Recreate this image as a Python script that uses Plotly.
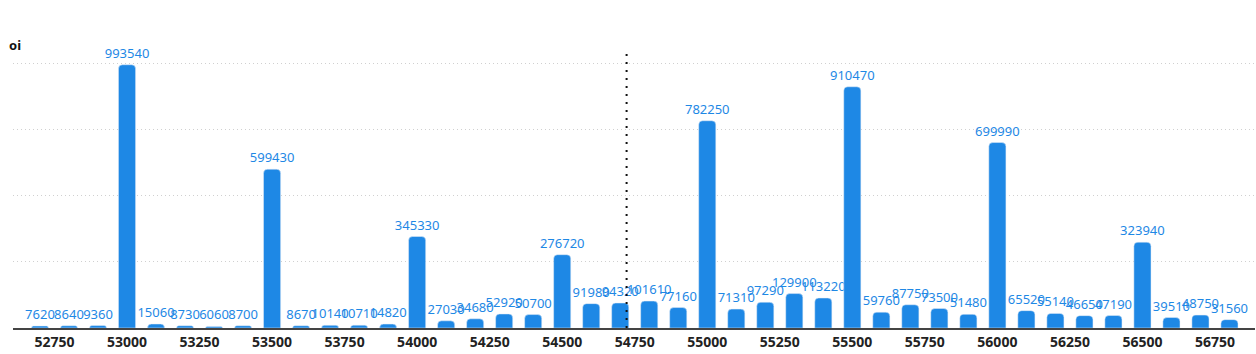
import plotly.graph_objects as go

strikes = [52700, 52800, 52900, 53000, 53100, 53200, 53300, 53400, 53500, 53600,
           53700, 53800, 53900, 54000, 54100, 54200, 54300, 54400, 54500, 54600,
           54700, 54800, 54900, 55000, 55100, 55200, 55300, 55400, 55500, 55600,
           55700, 55800, 55900, 56000, 56100, 56200, 56300, 56400, 56500, 56600,
           56700, 56800]
oi = [7620, 8640, 9360, 993540, 15060, 8730, 6060, 8700, 599430, 8670,
      10140, 10710, 14820, 345330, 27030, 34680, 52920, 50700, 276720, 91980,
      94320, 101610, 77160, 782250, 71310, 97290, 129900, 113220, 910470, 59760,
      87750, 73500, 51480, 699990, 65520, 55140, 46650, 47190, 323940, 39510,
      48750, 31560]
tick_vals = list(range(52750, 56751, 250))
spot = 54722

fig = go.Figure()
fig.add_trace(go.Bar(
    x=strikes, y=oi, width=59,
    marker=dict(color="#1e88e5", cornerradius=4),
    text=[str(v) for v in oi], textposition="outside",
    textfont=dict(color="#1e88e5", size=13, family="Noto Sans"),
    constraintext="none", cliponaxis=False,
))
fig.add_shape(type="line", xref="x", yref="paper", x0=spot, x1=spot, y0=0, y1=1.05,
              line=dict(color="#111", width=2, dash="2px,6px"))
fig.add_annotation(text="<b>oi</b>", xref="paper", yref="paper", x=-0.005, y=1.064,
                   xanchor="left", yanchor="middle", showarrow=False,
                   font=dict(size=13, color="#111", family="Noto Sans"))
fig.update_layout(
    width=1256, height=354, margin=dict(l=13, r=1, t=62, b=26),
    plot_bgcolor="white", paper_bgcolor="white", showlegend=False,
    font=dict(family="Noto Sans"),
    xaxis=dict(range=[52607, 56888], tickvals=tick_vals, ticktext=[str(t) for t in tick_vals],
               showgrid=False, showline=True, linecolor="#444", linewidth=2,
               tickfont=dict(size=14, color="#222", family="Noto Sans", weight="bold"),
               ticks="", zeroline=False),
    yaxis=dict(range=[0, 1004000], tickvals=[250000, 500000, 750000, 1000000],
               showticklabels=False, showgrid=True, gridcolor="#d0d0d0", griddash="1px,3px",
               zeroline=False, showline=False),
)
fig.write_html("out.html")
